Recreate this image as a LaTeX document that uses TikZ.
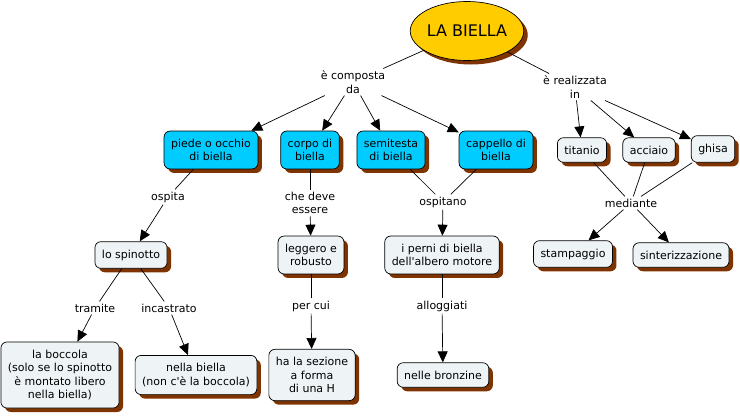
\documentclass[tikz,border=0pt]{standalone}
\usepackage{fontspec}
\setmainfont{DejaVu Sans}
\usetikzlibrary{shapes.geometric,shadows,arrows.meta}

\definecolor{rootyellow}{HTML}{FFCC00}
\definecolor{partcyan}{HTML}{00CCFF}
\definecolor{conceptgray}{HTML}{EEF3F5}
\definecolor{shadowbrown}{HTML}{7F3300}

\begin{document}
\begin{tikzpicture}[x=1pt,y=-1pt,
	every node/.style={font=\fontsize{11}{13.4}\selectfont,align=center},
	cshadow/.style={drop shadow={shadow xshift=4pt,shadow yshift=-4pt,fill=shadowbrown,opacity=1}},
	root/.style={ellipse,draw,fill=rootyellow,minimum width=107pt,minimum height=59pt,inner sep=0pt,
		font=\fontsize{16}{18}\selectfont,cshadow},
	concept/.style={draw,rounded corners=6pt,fill=conceptgray,inner xsep=7pt,inner ysep=8pt,cshadow},
	part/.style={concept,fill=partcyan},
	linkphrase/.style={inner sep=2pt},
	arr/.style={-{Triangle[length=11pt,width=10pt]}},
	line width=0.7pt]
\useasboundingbox (0,0) rectangle (740,416);

% concetto principale
\node[root] (biella) at (467,31) {LA BIELLA};

% parti della biella
\node[linkphrase] (composta) at (353,82) {è composta\\da};
\node[part] (piede) at (211,150) {piede o occhio\\di biella};
\node[part] (corpo) at (310,150) {corpo di\\biella};
\node[part] (semitesta) at (391,150) {semitesta\\di biella};
\node[part] (cappello) at (496,150) {cappello di\\biella};

% materiali
\node[linkphrase] (realizzata) at (575,87) {è realizzata\\in};
\node[concept] (titanio) at (582,150) {titanio};
\node[concept] (acciaio) at (649,150) {acciaio};
\node[concept] (ghisa) at (713,149) {ghisa};
\node[linkphrase] (mediante) at (631,203) {mediante};
\node[concept] (stampaggio) at (573,254) {stampaggio};
\node[concept] (sinter) at (681,255) {sinterizzazione};

% piede
\node[linkphrase] (ospita) at (168,197) {ospita};
\node[concept] (spinotto) at (131,255) {lo spinotto};
\node[linkphrase] (tramite) at (95,308) {tramite};
\node[linkphrase] (incastrato) at (169,308) {incastrato};
\node[concept] (boccola) at (60,375) {la boccola\\(solo se lo spinotto\\è montato libero\\nella biella)};
\node[concept] (nellabiella) at (196,375) {nella biella\\(non c\textquotesingle è la boccola)};

% corpo
\node[linkphrase] (deve) at (310,203) {che deve\\essere};
\node[concept] (leggero) at (311,255) {leggero e\\robusto};
\node[linkphrase] (percui) at (311,306) {per cui};
\node[concept] (sezione) at (312,375) {ha la sezione\\a forma\\di una H};

% testa
\node[linkphrase] (ospitano) at (443,202) {ospitano};
\node[concept] (perni) at (442,255) {i perni di biella\\dell\textquotesingle albero motore};
\node[linkphrase] (alloggiati) at (442,306) {alloggiati};
\node[concept] (bronzine) at (443,375) {nelle bronzine};

% collegamenti
\draw (biella) -- (composta);
\draw[arr] (composta) -- (piede);
\draw[arr] (composta) -- (corpo);
\draw[arr] (composta) -- (semitesta);
\draw[arr] (composta) -- (cappello);

\draw (biella) -- (realizzata);
\draw[arr] (realizzata) -- (titanio);
\draw[arr] (realizzata) -- (acciaio);
\draw[arr] (realizzata) -- (ghisa);
\draw (titanio) -- (mediante);
\draw (acciaio) -- (mediante);
\draw (ghisa) -- (mediante);
\draw[arr] (mediante) -- (stampaggio);
\draw[arr] (mediante) -- (sinter);

\draw (piede) -- (ospita);
\draw[arr] (ospita) -- (spinotto);
\draw (spinotto) -- (tramite);
\draw (spinotto) -- (incastrato);
\draw[arr] (tramite) -- (boccola);
\draw[arr] (incastrato) -- (nellabiella);

\draw (corpo) -- (deve);
\draw[arr] (deve) -- (leggero);
\draw (leggero) -- (percui);
\draw[arr] (percui) -- (sezione);

\draw (semitesta) -- (ospitano);
\draw (cappello) -- (ospitano);
\draw[arr] (ospitano) -- (perni);
\draw (perni) -- (alloggiati);
\draw[arr] (alloggiati) -- (bronzine);
\end{tikzpicture}
\end{document}
